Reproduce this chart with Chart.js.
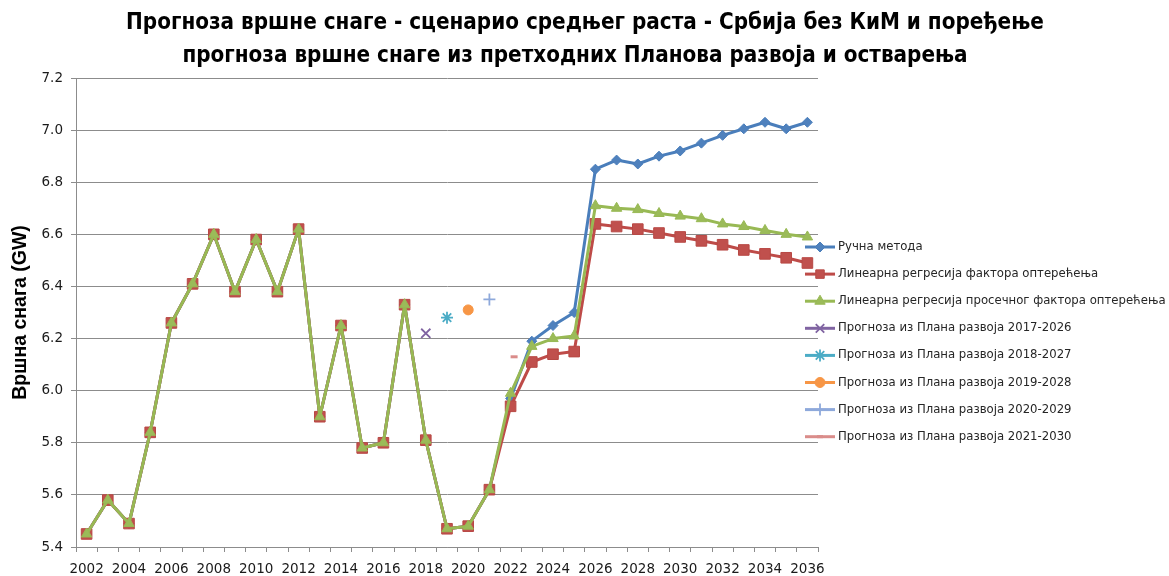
<!DOCTYPE html>
<html>
<head>
<meta charset="utf-8">
<script src="https://cdn.jsdelivr.net/npm/chart.js@4/dist/chart.umd.min.js"></script>
<style>
  html, body { margin: 0; padding: 0; background: #ffffff; }
  #wrap { width: 1169px; height: 576px; }
</style>
</head>
<body>
<div id="wrap"><canvas id="c" width="1169" height="576"></canvas></div>
<script>
// ---------- DATA ----------
const years = ['2002','2003','2004','2005','2006','2007','2008','2009','2010','2011','2012','2013','2014','2015','2016','2017','2018','2019','2020','2021','2022','2023','2024','2025','2026','2027','2028','2029','2030','2031','2032','2033','2034','2035','2036'];

// realised peak (2002-2021), shared by the three forecast methods
const realised = [5.45,5.58,5.49,5.84,6.26,6.41,6.60,6.38,6.58,6.38,6.62,5.90,6.25,5.78,5.80,6.33,5.81,5.47,5.48,5.62];

// forecasts 2022-2036
const manualMethod   = [5.97,6.19,6.25,6.30,6.85,6.885,6.87,6.90,6.92,6.95,6.98,7.005,7.03,7.005,7.03];
const linRegLoad     = [5.94,6.11,6.14,6.15,6.64,6.63,6.62,6.605,6.59,6.575,6.56,6.54,6.525,6.51,6.49];
const linRegAvgLoad  = [5.99,6.17,6.20,6.21,6.71,6.70,6.695,6.68,6.67,6.66,6.64,6.63,6.615,6.60,6.59];

// forecasts from earlier development plans (single points)
const planLabels = ['Прогноза из Плана развоја 2017-2026','Прогноза из Плана развоја 2018-2027','Прогноза из Плана развоја 2019-2028','Прогноза из Плана развоја 2020-2029','Прогноза из Плана развоја 2021-2030'];
const planYears  = ['2018','2019','2020','2021','2022'];
const planValues = [6.22,6.28,6.31,6.35,6.13];

const yTicks = [5.4,5.6,5.8,6.0,6.2,6.4,6.6,6.8,7.0,7.2];

const titleLines = ['Прогноза вршне снаге - сценарио средњег раста - Србија без КиМ и поређење',
                    'прогноза вршне снаге из претходних Планова развоја и остварења'];
const yTitle = 'Вршна снага (GW)';

// ---------- STYLE ----------
const planStyles = [
  { color: '#8064A2', pointStyle: 'crossRot', radius: 6.5, borderWidth: 1.8 },
  { color: '#4BACC6', pointStyle: 'star',     radius: 6,   borderWidth: 1.8 },
  { color: '#F79646', pointStyle: 'circle',   radius: 5,   borderWidth: 1 },
  { color: '#8EA9DB', pointStyle: 'cross',    radius: 6,   borderWidth: 1.8 },
  { color: '#DA8C8A', pointStyle: 'dash',     radius: 7,   borderWidth: 3 }
];

const datasets = [
  { label: 'Ручна метода', data: realised.concat(manualMethod),
    borderColor: '#4A7EBB', backgroundColor: '#4F81BD', borderWidth: 3,
    pointStyle: 'rectRot', pointRadius: 5, pointBorderWidth: 1, pointBorderColor: '#4A7EBB', order: 3 },
  { label: 'Линеарна регресија фактора оптерећења', data: realised.concat(linRegLoad),
    borderColor: '#BE4B48', backgroundColor: '#C0504D', borderWidth: 3,
    pointStyle: 'rect', pointRadius: 7.5, pointBorderWidth: 1, pointBorderColor: '#B84844', order: 2 },
  { label: 'Линеарна регресија просечног фактора оптерећења', data: realised.concat(linRegAvgLoad),
    borderColor: '#98B954', backgroundColor: '#9BBB59', borderWidth: 3,
    pointStyle: 'triangle', pointRadius: 6, pointBorderWidth: 1, pointBorderColor: '#98B954', order: 1 }
];
planLabels.forEach((lbl, i) => {
  const s = planStyles[i];
  datasets.push({
    label: lbl, data: [{ x: planYears[i], y: planValues[i] }],
    showLine: false, borderColor: s.color, backgroundColor: s.color,
    pointStyle: s.pointStyle, pointRadius: s.radius, pointBorderWidth: s.borderWidth,
    pointBorderColor: s.color, pointBackgroundColor: s.color, order: 0
  });
});

const GRID = '#8C8C8C';
const FONT = '"DejaVu Sans", sans-serif';

// ---------- marker drawing for the legend ----------
function drawMarker(ctx, style, r, x, y, fill, stroke, bw) {
  ctx.save();
  ctx.fillStyle = fill; ctx.strokeStyle = stroke; ctx.lineWidth = bw;
  ctx.beginPath();
  switch (style) {
    case 'rectRot':
      ctx.moveTo(x - r, y); ctx.lineTo(x, y - r); ctx.lineTo(x + r, y); ctx.lineTo(x, y + r); ctx.closePath();
      ctx.fill(); ctx.stroke(); break;
    case 'rect': {
      const s = r * Math.SQRT1_2;
      ctx.rect(x - s, y - s, 2 * s, 2 * s); ctx.fill(); ctx.stroke(); break; }
    case 'triangle': {
      const w = r * Math.sqrt(3) / 2;
      ctx.moveTo(x, y - r); ctx.lineTo(x + w, y + r / 2); ctx.lineTo(x - w, y + r / 2); ctx.closePath();
      ctx.fill(); ctx.stroke(); break; }
    case 'circle':
      ctx.arc(x, y, r, 0, Math.PI * 2); ctx.fill(); ctx.stroke(); break;
    case 'crossRot': {
      const d = r * Math.SQRT1_2;
      ctx.moveTo(x - d, y - d); ctx.lineTo(x + d, y + d); ctx.moveTo(x - d, y + d); ctx.lineTo(x + d, y - d);
      ctx.stroke(); break; }
    case 'cross':
      ctx.moveTo(x, y - r); ctx.lineTo(x, y + r); ctx.moveTo(x - r, y); ctx.lineTo(x + r, y); ctx.stroke(); break;
    case 'star': {
      const d = r * Math.SQRT1_2;
      ctx.moveTo(x, y - r); ctx.lineTo(x, y + r); ctx.moveTo(x - r, y); ctx.lineTo(x + r, y);
      ctx.moveTo(x - d, y - d); ctx.lineTo(x + d, y + d); ctx.moveTo(x - d, y + d); ctx.lineTo(x + d, y - d);
      ctx.stroke(); break; }
    case 'dash':
      ctx.moveTo(x - r / 2, y); ctx.lineTo(x + r / 2, y); ctx.stroke(); break;
  }
  ctx.restore();
}

const overlayPlugin = {
  id: 'overlay',
  afterDraw(chart) {
    const ctx = chart.ctx;
    // title
    ctx.save();
    ctx.fillStyle = '#000';
    ctx.textAlign = 'center';
    ctx.textBaseline = 'middle';
    const fam = '"Liberation Sans Narrow", "DejaVu Sans Condensed", "Liberation Sans", sans-serif';
    ctx.font = 'bold 100px ' + fam;
    const w100 = ctx.measureText(titleLines[0]).width;
    const size = Math.min(24, 100 * 918 / w100);
    ctx.font = 'bold ' + size.toFixed(2) + 'px ' + fam;
    ctx.fillText(titleLines[0], 585, 23);
    ctx.fillText(titleLines[1], 575, 56);
    ctx.restore();

    // legend
    ctx.save();
    ctx.font = '11.7px ' + FONT;
    ctx.textBaseline = 'middle';
    ctx.textAlign = 'left';
    const top = 247, gap = 27.1;
    chart.data.datasets.forEach((ds, i) => {
      const y = top + i * gap;
      ctx.strokeStyle = ds.borderColor;
      ctx.lineWidth = 3;
      ctx.beginPath(); ctx.moveTo(805, y); ctx.lineTo(835, y); ctx.stroke();
      drawMarker(ctx, ds.pointStyle, Math.min(ds.pointRadius, 6), 820, y,
                 ds.pointBackgroundColor || ds.backgroundColor, ds.pointBorderColor || ds.borderColor,
                 ds.pointBorderWidth);
      ctx.fillStyle = '#262626';
      ctx.fillText(ds.label, 838, y);
    });
    ctx.restore();
  }
};

new Chart(document.getElementById('c'), {
  type: 'line',
  data: { labels: years, datasets: datasets },
  plugins: [overlayPlugin],
  options: {
    responsive: false,
    animation: false,
    devicePixelRatio: 1,
    layout: { padding: { left: 0, right: 351, top: 78, bottom: 0 } },
    plugins: { legend: { display: false }, title: { display: false }, tooltip: { enabled: false } },
    elements: { line: { tension: 0, borderJoinStyle: 'round', borderCapStyle: 'round' } },
    scales: {
      x: {
        type: 'category',
        offset: true,
        grid: { display: true, offset: true, drawOnChartArea: false, drawTicks: true, tickLength: 5, color: GRID, lineWidth: 1 },
        border: { display: true, color: GRID, width: 1 },
        ticks: {
          autoSkip: false, maxRotation: 0, minRotation: 0, padding: 9,
          color: '#1a1a1a', font: { family: FONT, size: 13.5 },
          callback: function (val, idx) { return idx % 2 === 0 ? years[idx] : ''; }
        },
        afterFit: function (scale) { scale.height = 29; }
      },
      y: {
        min: yTicks[0], max: yTicks[yTicks.length - 1],
        afterBuildTicks: function (scale) { scale.ticks = yTicks.map(v => ({ value: v })); },
        grid: { color: GRID, lineWidth: 1, drawTicks: true, tickLength: 5 },
        border: { display: true, color: GRID, width: 1 },
        ticks: {
          padding: 8, color: '#1a1a1a', font: { family: FONT, size: 13.5 },
          callback: function (v) { return Number(v).toFixed(1); }
        },
        title: {
          display: true, text: yTitle, color: '#000',
          font: { family: '"Liberation Sans", sans-serif', size: 19.5, weight: 'bold' },
          padding: { top: 9, bottom: 0 }
        },
        afterFit: function (scale) { scale.width = 76; }
      }
    }
  }
});
</script>
</body>
</html>
